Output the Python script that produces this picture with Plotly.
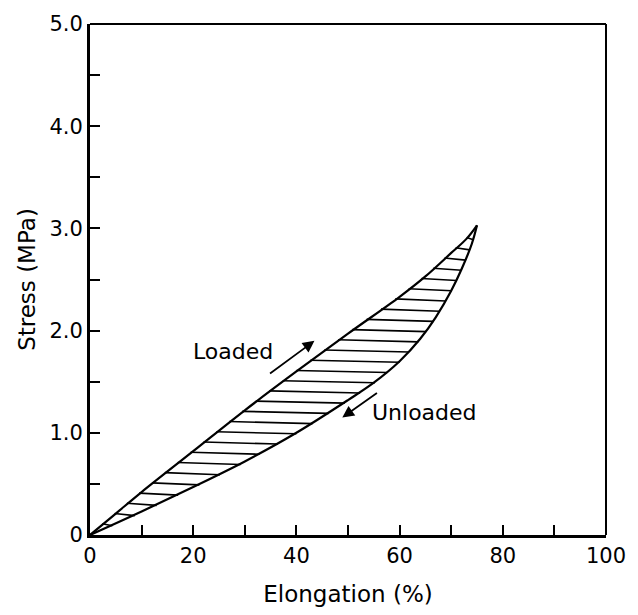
import numpy as np
import plotly.graph_objects as go

# Loading (upper) curve
load_x = [0, 5, 10, 20, 30, 40, 50, 60, 65, 70, 73, 75.0]
load_y = [0, 0.21, 0.42, 0.82, 1.22, 1.60, 1.97, 2.33, 2.53, 2.76, 2.90, 3.03]

# Unloading (lower) curve
unload_x = [0, 10, 20, 30, 40, 50, 55, 60, 64, 67, 70, 72, 74, 75.0]
unload_y = [0, 0.23, 0.47, 0.72, 1.00, 1.32, 1.49, 1.70, 1.92, 2.13, 2.39, 2.60, 2.85, 3.03]

hatch_levels = [round(0.1 * i, 1) for i in range(1, 30)]

x_tickvals = [0, 20, 40, 60, 80, 100]
x_ticktext = ["0", "20", "40", "60", "80", "100"]
y_tickvals = [0, 1, 2, 3, 4, 5]
y_ticktext = ["0", "1.0", "2.0", "3.0", "4.0", "5.0"]

FONT = "DejaVu Sans"

# hatch segments between curves
hx, hy = [], []
for h in hatch_levels:
    xl = float(np.interp(h, load_y, load_x))
    xr = float(np.interp(h, unload_y, unload_x))
    hx += [xl, xr, None]
    hy += [h + 0.01, h - 0.01, None]

fig = go.Figure()
fig.add_trace(go.Scatter(x=hx, y=hy, mode="lines", line=dict(color="black", width=1.6),
                         hoverinfo="skip", showlegend=False))
fig.add_trace(go.Scatter(x=load_x, y=load_y, mode="lines", line=dict(color="black", width=2.2, shape="spline", smoothing=1.0),
                         showlegend=False))
fig.add_trace(go.Scatter(x=unload_x, y=unload_y, mode="lines", line=dict(color="black", width=2.2, shape="spline", smoothing=1.0),
                         showlegend=False))

# labels and arrows
fig.add_annotation(x=27.8, y=1.80, text="Loaded", showarrow=False,
                   font=dict(family=FONT, size=22, color="black"))
fig.add_annotation(x=64.8, y=1.20, text="Unloaded", showarrow=False,
                   font=dict(family=FONT, size=22, color="black"))
fig.add_annotation(x=43.5, y=1.90, ax=34.6, ay=1.57, axref="x", ayref="y", xref="x", yref="y",
                   text="", showarrow=True, arrowhead=2, arrowsize=1.3, arrowwidth=1.8, arrowcolor="black")
fig.add_annotation(x=48.9, y=1.15, ax=55.9, ay=1.40, axref="x", ayref="y", xref="x", yref="y",
                   text="", showarrow=True, arrowhead=2, arrowsize=1.3, arrowwidth=1.8, arrowcolor="black")

# top and right frame lines
fig.add_shape(type="line", xref="paper", yref="paper", x0=0, x1=1, y0=1, y1=1,
              line=dict(color="black", width=2))
fig.add_shape(type="line", xref="paper", yref="paper", x0=1, x1=1, y0=0, y1=1,
              line=dict(color="black", width=2))

fig.update_xaxes(range=[0, 100], tickvals=x_tickvals, ticktext=x_ticktext,
                 ticks="inside", ticklen=10, tickwidth=1.5, tickcolor="black",
                 minor=dict(dtick=10, ticks="inside", ticklen=10, tickwidth=1.5, tickcolor="black"),
                 showline=True, linewidth=3, linecolor="black", showgrid=False, zeroline=False,
                 tickfont=dict(family=FONT, size=21, color="black"),
                 title=dict(text="Elongation (%)", font=dict(family=FONT, size=23, color="black"), standoff=19))
fig.update_yaxes(range=[0, 5], tickvals=y_tickvals, ticktext=y_ticktext,
                 ticks="inside", ticklen=10, tickwidth=1.5, tickcolor="black",
                 minor=dict(dtick=0.5, ticks="inside", ticklen=10, tickwidth=1.5, tickcolor="black"),
                 showline=True, linewidth=3, linecolor="black", showgrid=False, zeroline=False,
                 tickfont=dict(family=FONT, size=21, color="black"),
                 title=dict(text="Stress (MPa)", font=dict(family=FONT, size=23, color="black"), standoff=8))

fig.update_layout(width=638, height=615, margin=dict(l=90, r=25, t=20, b=65),
                  plot_bgcolor="white", paper_bgcolor="white")

fig.write_html("out.html")
